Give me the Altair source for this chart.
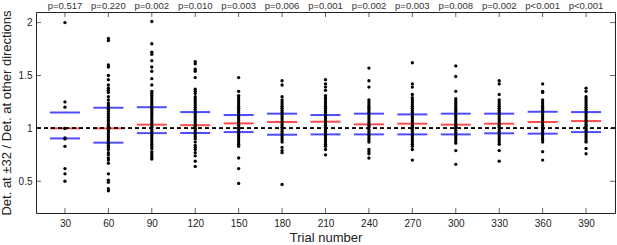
import altair as alt
import pandas as pd

trials = [30, 60, 90, 120, 150, 180, 210, 240, 270, 300, 330, 360, 390]
p_labels = ["p=0.517", "p=0.220", "p=0.002", "p=0.010", "p=0.003", "p=0.006", "p=0.001",
            "p=0.002", "p=0.003", "p=0.008", "p=0.002", "p<0.001", "p<0.001"]
mean_vals = [1.00, 1.00, 1.035, 1.03, 1.047, 1.06, 1.063, 1.038, 1.044, 1.035, 1.044, 1.06, 1.069]
upper_vals = [1.15, 1.195, 1.20, 1.154, 1.126, 1.139, 1.126, 1.139, 1.132, 1.139, 1.139, 1.157, 1.154]
lower_vals = [0.905, 0.865, 0.955, 0.956, 0.965, 0.94, 0.943, 0.943, 0.943, 0.943, 0.953, 0.95, 0.965]

col30 = [2.0, 1.25, 1.20, 1.0, 1.0, 0.91, 0.90, 0.83, 0.62, 0.57, 0.50]
col60 = [1.85, 1.83, 1.60, 1.58, 1.50, 1.46, 1.41, 1.38, 1.36, 1.34, 1.30, 1.27, 1.24, 1.22, 1.20,
         1.18, 1.16, 1.14, 1.12, 1.10, 1.08, 1.06, 1.04, 1.02, 1.00, 0.98, 0.96, 0.94, 0.92, 0.90,
         0.88, 0.86, 0.84, 0.82, 0.80, 0.77, 0.75, 0.72, 0.70, 0.67, 0.57, 0.51, 0.49, 0.43, 0.41]
col90 = [2.01, 1.80, 1.72, 1.70, 1.64, 1.58, 1.54, 1.47, 1.41, 1.35, 1.33, 1.31, 1.29, 1.27, 1.25,
         1.23, 1.21, 1.19, 1.17, 1.15, 1.13, 1.11, 1.09, 1.07, 1.05, 1.03, 1.01, 0.99, 0.97, 0.95,
         0.93, 0.91, 0.89, 0.87, 0.85, 0.83, 0.81, 0.78, 0.76, 0.74, 0.72, 0.71]
col120 = [1.63, 1.61, 1.56, 1.54, 1.48, 1.37, 1.35, 1.33, 1.30, 1.28, 1.26, 1.24, 1.22, 1.20, 1.18,
          1.16, 1.14, 1.12, 1.10, 1.08, 1.06, 1.04, 1.02, 1.00, 0.98, 0.96, 0.94, 0.92, 0.90, 0.87,
          0.84, 0.82, 0.80, 0.77, 0.74, 0.69, 0.64]
col150 = [1.48, 1.35, 1.31, 1.29, 1.27, 1.25, 1.23, 1.21, 1.19, 1.17, 1.15, 1.13, 1.11, 1.09, 1.07,
          1.05, 1.03, 1.01, 0.99, 0.97, 0.95, 0.93, 0.91, 0.89, 0.87, 0.85, 0.83, 0.72, 0.62, 0.48]
col180 = [1.45, 1.41, 1.30, 1.27, 1.25, 1.23, 1.21, 1.19, 1.17, 1.15, 1.13, 1.11, 1.09, 1.07, 1.05,
          1.03, 1.01, 0.99, 0.97, 0.95, 0.93, 0.91, 0.89, 0.87, 0.82, 0.79, 0.77, 0.47]
col210 = [1.46, 1.42, 1.39, 1.36, 1.31, 1.29, 1.27, 1.25, 1.23, 1.21, 1.19, 1.17, 1.15, 1.13, 1.11,
          1.09, 1.07, 1.05, 1.03, 1.01, 0.99, 0.97, 0.95, 0.93, 0.91, 0.89, 0.87, 0.85, 0.83, 0.80, 0.75]
col240 = [1.57, 1.45, 1.39, 1.27, 1.25, 1.23, 1.21, 1.19, 1.17, 1.15, 1.13, 1.11, 1.09, 1.07, 1.05,
          1.03, 1.01, 0.99, 0.97, 0.95, 0.93, 0.91, 0.89, 0.87, 0.80, 0.78, 0.76, 0.72]
col270 = [1.62, 1.42, 1.39, 1.32, 1.29, 1.27, 1.25, 1.23, 1.21, 1.19, 1.17, 1.15, 1.13, 1.11, 1.09,
          1.07, 1.05, 1.03, 1.01, 0.99, 0.97, 0.95, 0.93, 0.91, 0.89, 0.87, 0.85, 0.83, 0.80, 0.70]
col300 = [1.59, 1.49, 1.35, 1.28, 1.26, 1.24, 1.22, 1.20, 1.18, 1.16, 1.14, 1.12, 1.10, 1.08, 1.06,
          1.04, 1.02, 1.00, 0.98, 0.96, 0.94, 0.92, 0.90, 0.88, 0.86, 0.79, 0.66]
col330 = [1.45, 1.42, 1.32, 1.27, 1.25, 1.23, 1.21, 1.19, 1.17, 1.15, 1.13, 1.11, 1.09, 1.07, 1.05,
          1.03, 1.01, 0.99, 0.97, 0.95, 0.93, 0.91, 0.89, 0.87, 0.85, 0.79, 0.69]
col360 = [1.42, 1.35, 1.34, 1.27, 1.25, 1.23, 1.21, 1.19, 1.17, 1.15, 1.13, 1.11, 1.09, 1.07, 1.05,
          1.03, 1.01, 0.99, 0.97, 0.95, 0.93, 0.91, 0.89, 0.87, 0.78, 0.70]
col390 = [1.38, 1.35, 1.30, 1.28, 1.26, 1.24, 1.22, 1.20, 1.18, 1.16, 1.14, 1.12, 1.10, 1.08, 1.06,
          1.04, 1.02, 1.00, 0.98, 0.96, 0.94, 0.92, 0.90, 0.88, 0.87, 0.81, 0.76]

x_ticks = [30, 60, 90, 120, 150, 180, 210, 240, 270, 300, 330, 360, 390]
y_ticks = [0.5, 1, 1.5, 2]
x_domain = [10, 410]
y_domain = [0.2, 2.1]

columns = [col30, col60, col90, col120, col150, col180, col210, col240, col270,
           col300, col330, col360, col390]
pts = pd.DataFrame([{"trial": t, "ratio": v} for t, col in zip(trials, columns) for v in col])
stats = pd.DataFrame({"trial": trials, "mean": mean_vals, "upper": upper_vals,
                      "lower": lower_vals, "p": p_labels})
xt = pd.DataFrame({"t": x_ticks})
yt = pd.DataFrame({"t": y_ticks})

FONT = "Liberation Sans"
xscale = alt.Scale(domain=x_domain, nice=False, zero=False)
yscale = alt.Scale(domain=y_domain, nice=False, zero=False)

xaxis = alt.Axis(values=x_ticks, domain=False, ticks=False, grid=False, labelFontSize=10,
                 labelPadding=5, labelColor="#222", title="Trial number", titleFontSize=13,
                 titleFontWeight="normal", titleColor="#222", titlePadding=3, labelFont=FONT,
                 titleFont=FONT)
yaxis = alt.Axis(values=y_ticks, format=".1~f", domain=False, ticks=False, grid=False,
                 labelFontSize=10, labelPadding=4, labelColor="#222",
                 title="Det. at ±32 / Det. at other directions", titleFontSize=13,
                 titleFontWeight="normal", titleColor="#222", titlePadding=5, labelFont=FONT,
                 titleFont=FONT)

base_stats = alt.Chart(stats)
upper = base_stats.mark_tick(orient="horizontal", size=30, thickness=2, color="#0000ff").encode(
    x=alt.X("trial:Q", scale=xscale, axis=xaxis),
    y=alt.Y("upper:Q", scale=yscale, axis=yaxis))
lower = base_stats.mark_tick(orient="horizontal", size=30, thickness=2, color="#0000ff").encode(
    x="trial:Q", y="lower:Q")
mean = base_stats.mark_tick(orient="horizontal", size=30, thickness=2, color="#ff0000").encode(
    x="trial:Q", y="mean:Q")

points = alt.Chart(pts).mark_circle(size=11, color="black", opacity=1).encode(
    x="trial:Q", y="ratio:Q")

ref = alt.Chart(stats).mark_rule(color="black", strokeWidth=1, strokeDash=[4, 3]).encode(
    y=alt.datum(1))

tick_style = dict(size=10, thickness=1, color="#222", clip=True)
xt_bottom = alt.Chart(xt).mark_tick(orient="vertical", **tick_style).encode(
    x="t:Q", y=alt.datum(y_domain[0]))
xt_top = alt.Chart(xt).mark_tick(orient="vertical", **tick_style).encode(
    x="t:Q", y=alt.datum(y_domain[1]))
yt_left = alt.Chart(yt).mark_tick(orient="horizontal", **tick_style).encode(
    y="t:Q", x=alt.datum(x_domain[0]))
yt_right = alt.Chart(yt).mark_tick(orient="horizontal", **tick_style).encode(
    y="t:Q", x=alt.datum(x_domain[1]))

ptext = alt.Chart(stats).mark_text(font=FONT, fontSize=9.5, color="#333", baseline="alphabetic",
                                   dy=-3.5).encode(
    x="trial:Q", y=alt.datum(y_domain[1]), text="p:N")

chart = alt.layer(upper, lower, mean, points, ref, xt_bottom, xt_top, yt_left, yt_right,
                  ptext).properties(
    width=579, height=201,
    autosize=alt.AutoSizeParams(type="none"),
    padding={"left": 36, "top": 12, "right": 2, "bottom": 32},
    background="white",
).configure_view(stroke="#222", strokeWidth=1)

chart.save("out.html", embed_options={"renderer": "svg", "actions": False})
